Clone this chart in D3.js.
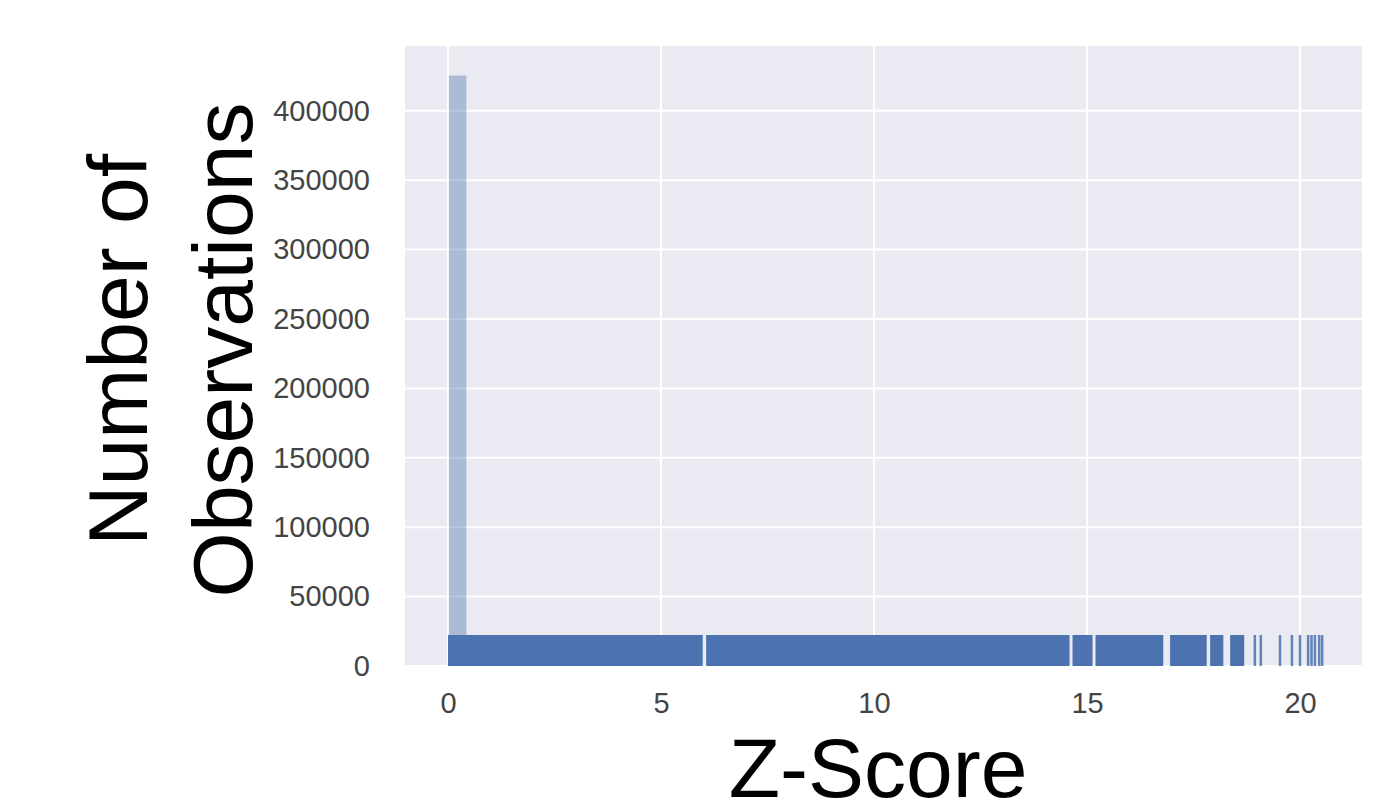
<!DOCTYPE html>
<html>
<head>
<meta charset="utf-8">
<script src="https://cdn.jsdelivr.net/npm/d3@7"></script>
<style>
  body { margin: 0; background: #fff; }
  text { font-family: "Liberation Sans", Arial, sans-serif; }
</style>
</head>
<body>
<svg id="chart" width="1373" height="806"></svg>
<script>
// histogram bin (only the first bin is tall enough to show)
const binEdges = [0.02, 0.43];
const binCounts = [425400];

// rug: dense stretches of observations [from, to] and isolated observations
const rugSpans = [[0.0, 5.98], [6.06, 14.59], [14.66, 15.13], [15.20, 16.79],
    [16.95, 17.81], [17.89, 18.20], [18.36, 18.69]];
const rugPoints = [18.94, 19.08, 19.53, 19.81, 20.0, 20.19, 20.27, 20.35, 20.45, 20.52];

const xTicks = [0, 5, 10, 15, 20];
const yTicks = [0, 50000, 100000, 150000, 200000, 250000, 300000, 350000, 400000];

const svg = d3.select("#chart");
const margins = { top: 46, right: 11, bottom: 140, left: 405 };
const width = +svg.attr("width") - margins.left - margins.right;
const height = +svg.attr("height") - margins.top - margins.bottom;

const g = svg.append("g")
    .attr("transform", "translate(" + margins.left + ", " + margins.top + ")");

const x = d3.scaleLinear().domain([-1.009, 21.455]).range([0, width]);
const y = d3.scaleLinear().domain([0, 446700]).range([height, 0]);

// background panel
g.append("rect")
    .attr("width", width)
    .attr("height", height)
    .attr("fill", "#eaeaf2");

// grid
g.selectAll("line.xgrid").data(xTicks)
    .join("line")
    .attr("class", "xgrid")
    .attr("x1", d => x(d)).attr("x2", d => x(d))
    .attr("y1", 0).attr("y2", height)
    .attr("stroke", "#fff").attr("stroke-width", 2);

g.selectAll("line.ygrid").data(yTicks)
    .join("line")
    .attr("class", "ygrid")
    .attr("x1", 0).attr("x2", width)
    .attr("y1", d => y(d)).attr("y2", d => y(d))
    .attr("stroke", "#fff").attr("stroke-width", 2);

// histogram
g.selectAll("rect.bin").data(binCounts)
    .join("rect")
    .attr("class", "bin")
    .attr("x", (d, i) => x(binEdges[i]))
    .attr("width", (d, i) => x(binEdges[i + 1]) - x(binEdges[i]))
    .attr("y", d => y(d))
    .attr("height", d => height - y(d))
    .attr("fill", "#4c72b0")
    .attr("opacity", 0.4);

// rug (5% of axis height)
const rugH = height * 0.05;
g.selectAll("rect.rugspan").data(rugSpans)
    .join("rect")
    .attr("class", "rugspan")
    .attr("x", d => x(d[0]))
    .attr("width", d => x(d[1]) - x(d[0]))
    .attr("y", height - rugH)
    .attr("height", rugH)
    .attr("fill", "#4c72b0");

g.selectAll("line.rug").data(rugPoints)
    .join("line")
    .attr("class", "rug")
    .attr("x1", d => x(d)).attr("x2", d => x(d))
    .attr("y1", height - rugH).attr("y2", height)
    .attr("stroke", "#4c72b0")
    .attr("stroke-width", 2.5)
    .attr("opacity", 0.85);

// axes
const xAxis = g.append("g")
    .attr("transform", "translate(0," + height + ")")
    .call(d3.axisBottom(x).tickValues(xTicks).tickSize(0).tickPadding(26));
const yAxis = g.append("g")
    .call(d3.axisLeft(y).tickValues(yTicks).tickSize(0).tickPadding(35).tickFormat(d3.format("d")));

[xAxis, yAxis].forEach(a => {
    a.select(".domain").remove();
    a.selectAll("text")
        .attr("font-size", 29)
        .attr("font-family", "'Liberation Sans', Arial, sans-serif")
        .attr("fill", "#444");
});

// axis titles
svg.append("text")
    .attr("x", 878)
    .attr("y", 797)
    .attr("text-anchor", "middle")
    .attr("font-size", 84)
    .attr("fill", "#000")
    .text("Z-Score");

const ylab = svg.append("text")
    .attr("transform", "translate(147, 350) rotate(-90)")
    .attr("text-anchor", "middle")
    .attr("font-size", 84)
    .attr("fill", "#000");
ylab.append("tspan").attr("x", 0).attr("y", 0).text("Number of");
ylab.append("tspan").attr("x", 0).attr("y", 105).text("Observations");
</script>
</body>
</html>
